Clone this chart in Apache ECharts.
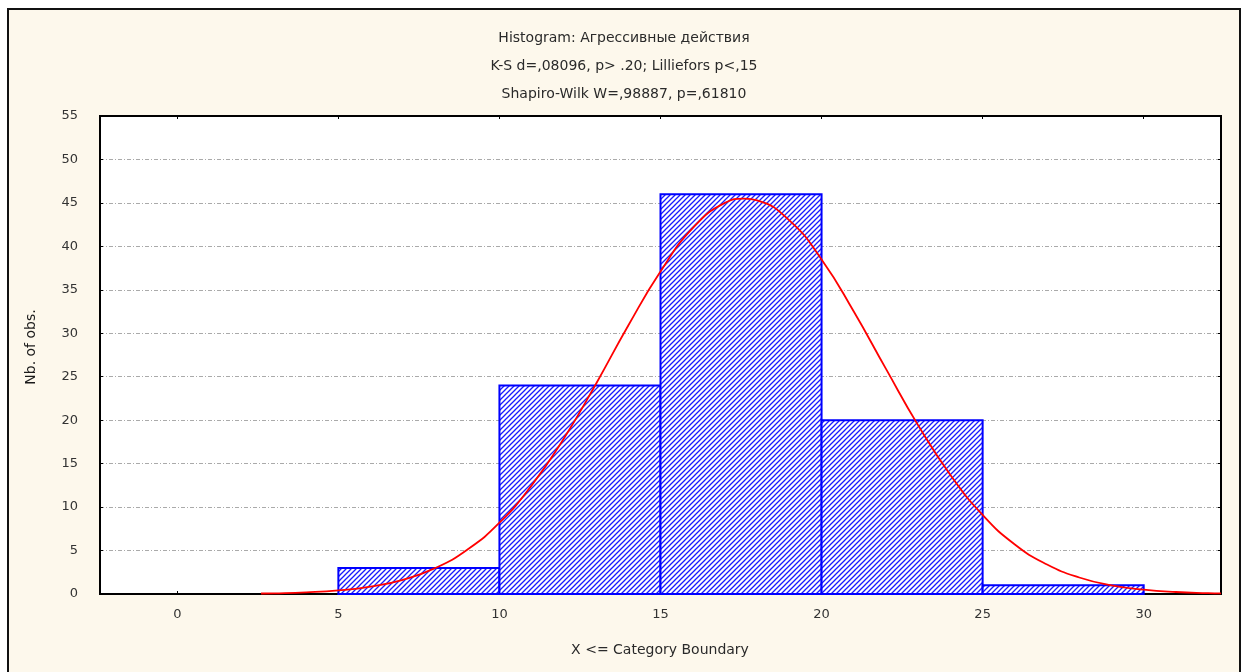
<!DOCTYPE html>
<html>
<head>
<meta charset="utf-8">
<script src="https://cdn.jsdelivr.net/npm/echarts@6/dist/echarts.min.js"></script>
<style>
html,body{margin:0;padding:0;background:#fff;}
#main{width:1248px;height:672px;}
</style>
</head>
<body>
<div id="main"></div>
<script>
// ---- data ----
const titleLines = [
  'Histogram: Агрессивные действия',
  'K-S d=,08096, p> .20; Lilliefors p<,15',
  'Shapiro-Wilk W=,98887, p=,61810'
];
const xAxisTitle = 'X <= Category Boundary';
const yAxisTitle = 'Nb. of obs.';
const binStart = [5, 10, 15, 20, 25];
const binEnd   = [10, 15, 20, 25, 30];
const binCount = [3, 24, 46, 20, 1];
// fitted normal curve
const curveX = [2.6, 3, 4, 5, 6, 7, 8, 9, 10, 11, 12, 13, 14, 15, 16, 17, 17.6, 18, 19, 20, 21, 22, 23, 24, 25, 26, 27, 28, 29, 30, 31, 32, 32.4];
const curveY = [0.06, 0.08, 0.19, 0.41, 0.85, 1.63, 2.97, 5.1, 8.2, 12.5, 17.9, 24.2, 30.9, 37.1, 42.1, 45.0, 45.5, 45.3, 43.0, 38.5, 32.5, 25.9, 19.4, 13.7, 9.1, 5.7, 3.4, 1.9, 1.0, 0.5, 0.23, 0.1, 0.07];
const yTicks = [0, 55, 5];
const xRange = [-2.4, 32.4];

// ---- hatch pattern ----
const tile = document.createElement('canvas');
const T = 5;
tile.width = T; tile.height = T;
const g = tile.getContext('2d');
g.fillStyle = '#ffffff';
g.fillRect(0, 0, T, T);
g.strokeStyle = '#1a1aff';
g.lineWidth = 1.3;
g.beginPath();
g.moveTo(-1, T + 1); g.lineTo(T + 1, -1);
g.moveTo(-1, 1); g.lineTo(1, -1);
g.moveTo(T - 1, T + 1); g.lineTo(T + 1, T - 1);
g.stroke();
const hatch = { image: tile, repeat: 'repeat' };

const bins = binStart.map((s, i) => [s, binEnd[i], binCount[i]]);
const curve = curveX.map((x, i) => [x, curveY[i]]);

const font = '"DejaVu Sans", "Liberation Sans", Arial, sans-serif';
const chart = echarts.init(document.getElementById('main'), null, { renderer: 'canvas' });
chart.setOption({
  backgroundColor: '#ffffff',
  animation: false,
  graphic: [
    { type: 'rect', z: -10, shape: { x: 8, y: 9, width: 1232, height: 700 },
      style: { fill: '#fdf8ec', stroke: '#111', lineWidth: 2 } },
    { type: 'text', x: 624, y: 38, z: 10,
      style: { text: titleLines[0], font: '14px ' + font, fill: '#2a2a2a', align: 'center', verticalAlign: 'middle' } },
    { type: 'text', x: 624, y: 66, z: 10,
      style: { text: titleLines[1], font: '14px ' + font, fill: '#2a2a2a', align: 'center', verticalAlign: 'middle' } },
    { type: 'text', x: 624, y: 94, z: 10,
      style: { text: titleLines[2], font: '14px ' + font, fill: '#2a2a2a', align: 'center', verticalAlign: 'middle' } },
    { type: 'text', x: 660, y: 650, z: 10,
      style: { text: xAxisTitle, font: '14px ' + font, fill: '#2a2a2a', align: 'center', verticalAlign: 'middle' } },
    { type: 'text', x: 31, y: 347, rotation: Math.PI / 2, z: 10,
      style: { text: yAxisTitle, font: '14px ' + font, fill: '#1a1a1a', align: 'center', verticalAlign: 'middle' } }
  ],
  grid: { left: 100, top: 116, right: 27, bottom: 78, show: true, backgroundColor: '#ffffff', borderColor: '#000', borderWidth: 2 },
  xAxis: [{
    type: 'value', min: xRange[0], max: xRange[1], splitNumber: 7,
    axisLine: { show: true, onZero: false, lineStyle: { color: '#000', width: 2 } },
    axisTick: { show: true, inside: true, length: 3, lineStyle: { color: '#000' } },
    axisLabel: { color: '#333', fontSize: 13, fontFamily: font, margin: 14, showMinLabel: false, showMaxLabel: false },
    splitLine: { show: false }
  }, {
    type: 'value', position: 'top', min: xRange[0], max: xRange[1], splitNumber: 7,
    axisLine: { show: true, onZero: false, lineStyle: { color: '#000', width: 2 } },
    axisTick: { show: true, inside: true, length: 3, lineStyle: { color: '#000' } },
    axisLabel: { show: false }, splitLine: { show: false }
  }],
  yAxis: [{
    type: 'value', min: yTicks[0], max: yTicks[1], interval: yTicks[2],
    axisLine: { show: true, onZero: false, lineStyle: { color: '#000', width: 2 } },
    axisTick: { show: true, inside: true, length: 3, lineStyle: { color: '#000' } },
    axisLabel: { color: '#333', fontSize: 13, fontFamily: font, margin: 22 },
    splitLine: { show: true, lineStyle: { color: '#aaa', type: [4, 2, 1, 2], width: 1 } }
  }, {
    type: 'value', position: 'right', min: yTicks[0], max: yTicks[1], interval: yTicks[2],
    axisLine: { show: true, onZero: false, lineStyle: { color: '#000', width: 2 } },
    axisTick: { show: true, inside: true, length: 3, lineStyle: { color: '#000' } },
    axisLabel: { show: false }, splitLine: { show: false }
  }],
  series: [{
    type: 'custom',
    data: bins,
    renderItem: function (params, api) {
      const p0 = api.coord([api.value(0), api.value(2)]);
      const p1 = api.coord([api.value(1), 0]);
      return {
        type: 'rect',
        shape: { x: p0[0], y: p0[1], width: p1[0] - p0[0], height: p1[1] - p0[1] },
        style: { fill: hatch, stroke: '#0000ff', lineWidth: 2 }
      };
    },
    z: 2
  }, {
    type: 'line',
    data: curve,
    smooth: true,
    showSymbol: false,
    lineStyle: { color: '#ff0000', width: 1.8 },
    z: 3
  }]
});
</script>
</body>
</html>
